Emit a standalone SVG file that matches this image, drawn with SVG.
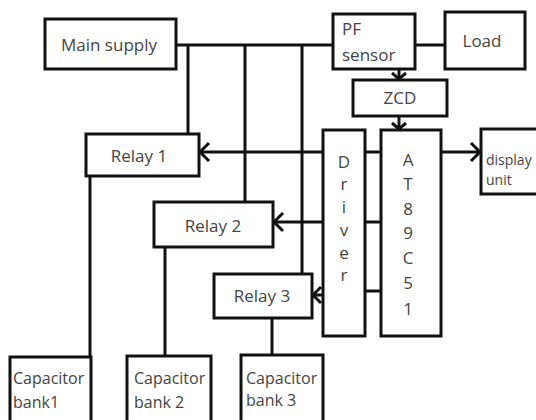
<svg xmlns="http://www.w3.org/2000/svg" width="536" height="420" viewBox="0 0 536 420">
<defs>
<style>
.box{fill:#fff;stroke:#111;stroke-width:3}
.ln{fill:none;stroke:#111;stroke-width:3}
.ah{fill:none;stroke:#111;stroke-width:3;stroke-linecap:butt}
text{font-family:"Open Sans","Liberation Sans",sans-serif;font-size:17px;fill:#444}
.c{text-anchor:middle}
.s{font-size:16px}
.d{font-size:14px}
</style>
</defs>
<rect width="536" height="420" fill="#fff"/>
<g id="connectors">
<path class="ln" d="M176 45 H333"/>
<path class="ln" d="M415 45 H445"/>
<path class="ln" d="M188 45 V134"/>
<path class="ln" d="M245 45 V202"/>
<path class="ln" d="M302 45 V274"/>
<path class="ln" d="M323 152 H200"/>
<path class="ah" d="M209 143 L200 152 L209 161"/>
<path class="ln" d="M323 222 H274"/>
<path class="ah" d="M283 213 L274 222 L283 231"/>
<path class="ln" d="M323 295 H313"/>
<path class="ah" d="M321 287 L313 295 L321 303"/>
<path class="ln" d="M365 152 H381"/>
<path class="ln" d="M365 222 H381"/>
<path class="ln" d="M365 291 H381"/>
<path class="ln" d="M441 152 H480"/>
<path class="ah" d="M471 143 L480 152 L471 161"/>
<path class="ln" d="M399 69 V79"/>
<path class="ah" d="M392 73 L399 79 L406 73"/>
<path class="ln" d="M399 116 V129"/>
<path class="ah" d="M392 123 L399 129 L406 123"/>
<path class="ln" d="M90 176 V357"/>
<path class="ln" d="M165 247 V357"/>
<path class="ln" d="M272 318 V355"/>
</g>
<g id="main-supply"><rect class="box" x="45" y="19" width="131" height="50"/><text class="c" x="109" y="51">Main supply</text></g>
<g id="pf-sensor"><rect class="box" x="333" y="14" width="82" height="55"/><text x="342" y="35">PF</text><text x="342" y="61">sensor</text></g>
<g id="load"><rect class="box" x="445" y="12" width="80" height="57"/><text class="c" x="482" y="47">Load</text></g>
<g id="zcd"><rect class="box" x="353" y="80" width="94" height="36"/><text class="c" x="400" y="104">ZCD</text></g>
<g id="relay1"><rect class="box" x="86" y="134" width="113" height="42"/><text class="c" x="139" y="162">Relay 1</text></g>
<g id="relay2"><rect class="box" x="154" y="202" width="119" height="45"/><text class="c" x="213" y="232">Relay 2</text></g>
<g id="relay3"><rect class="box" x="214" y="274" width="98" height="44"/><text class="c" x="262" y="302">Relay 3</text></g>
<g id="driver"><rect class="box" x="323" y="130" width="42" height="206"/>
<text class="c" x="344" y="168">D</text><text class="c" x="344" y="190">r</text><text class="c" x="344" y="213">i</text><text class="c" x="344" y="236">v</text><text class="c" x="344" y="259">e</text><text class="c" x="344" y="281">r</text></g>
<g id="at89c51"><rect class="box" x="381" y="130" width="60" height="206"/>
<text class="c" x="408" y="166">A</text><text class="c" x="408" y="190">T</text><text class="c" x="408" y="215">8</text><text class="c" x="408" y="239">9</text><text class="c" x="408" y="264">C</text><text class="c" x="408" y="289">5</text><text class="c" x="408" y="315">1</text></g>
<g id="display-unit"><rect class="box" x="481" y="129" width="70" height="65"/><text class="d" x="486" y="165">display</text><text class="d" x="486" y="185">unit</text></g>
<g id="cap-bank1"><rect class="box" x="10" y="357" width="81" height="70"/><text class="s" x="13" y="384">Capacitor</text><text class="s" x="13" y="408">bank1</text></g>
<g id="cap-bank2"><rect class="box" x="127" y="356" width="84" height="70"/><text class="s" x="134" y="384">Capacitor</text><text class="s" x="134" y="408">bank 2</text></g>
<g id="cap-bank3"><rect class="box" x="241" y="355" width="82" height="70"/><text class="s" x="246" y="384">Capacitor</text><text class="s" x="246" y="406">bank 3</text></g>
</svg>
